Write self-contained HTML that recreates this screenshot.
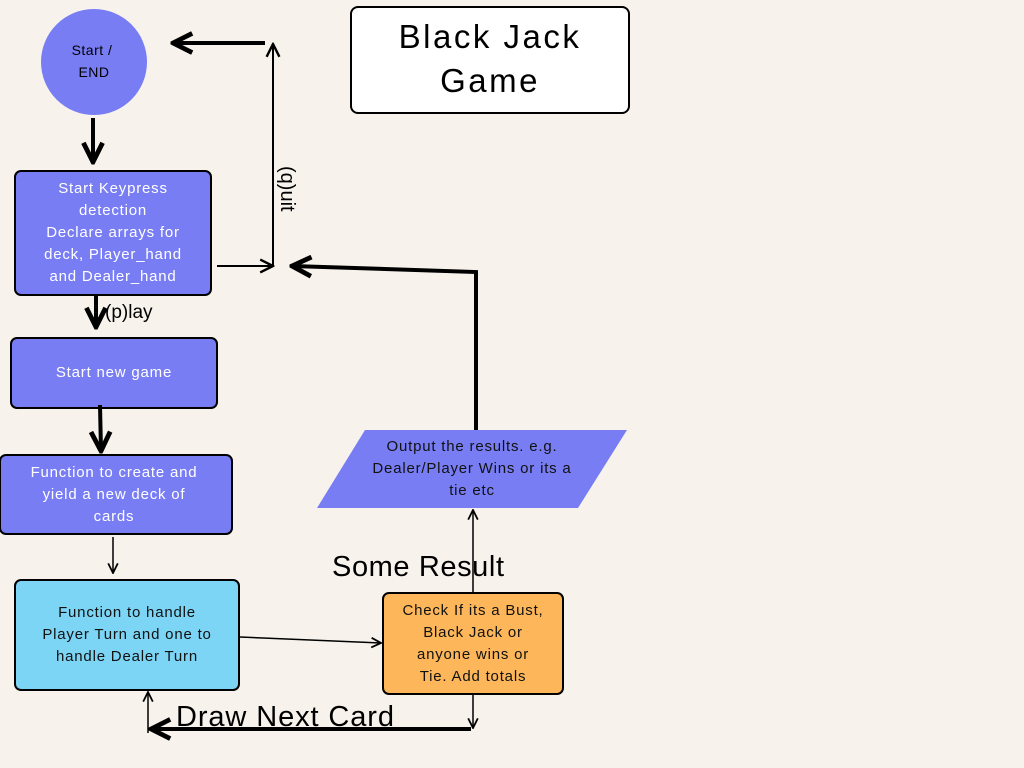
<!DOCTYPE html>
<html><head><style>body{margin:0;background:#f7f3ec}svg{display:block}</style></head><body>
<svg width="1024" height="768" viewBox="0 0 1024 768" xmlns="http://www.w3.org/2000/svg" font-family="Liberation Sans, sans-serif">
<rect width="1024" height="768" fill="#f7f3ec"/>
<defs>
<marker id="a" viewBox="0 0 10 10" refX="9" refY="5" markerWidth="6" markerHeight="6" orient="auto-start-reverse"><path d="M1,1 L9,5 L1,9" fill="none" stroke="#000" stroke-width="2"/></marker>
<marker id="t" viewBox="0 0 10 10" refX="9" refY="5" markerWidth="8" markerHeight="8" orient="auto-start-reverse"><path d="M1,1 L9,5 L1,9" fill="none" stroke="#000" stroke-width="1.5"/></marker>
</defs>
<circle cx="94" cy="62" r="53" fill="#787df4"/>
<text x="92" y="55" fill="#000" font-size="14" text-anchor="middle" letter-spacing="0.5">Start /</text>
<text x="94" y="77" fill="#000" font-size="14" text-anchor="middle" letter-spacing="0.5">END</text>
<rect x="351" y="7" width="278" height="106" rx="7" fill="#fff" stroke="#000" stroke-width="2"/>
<text x="490" y="48" font-size="33" text-anchor="middle" letter-spacing="2.5">Black Jack</text>
<text x="490" y="92" font-size="33" text-anchor="middle" letter-spacing="2.5">Game</text>
<g fill="#787df4" stroke="#000" stroke-width="2">
<rect x="15" y="171" width="196" height="124" rx="6"/>
<rect x="11" y="338" width="206" height="70" rx="6"/>
<rect x="0" y="455" width="232" height="79" rx="6"/>
<rect x="15" y="580" width="224" height="110" rx="6" fill="#7dd5f5"/>
<rect x="383" y="593" width="180" height="101" rx="6" fill="#fdb75a"/>
</g>
<polygon points="365,430 627,430 578,508 317,508" fill="#787df4"/>
<g fill="#fff" font-size="15" text-anchor="middle" letter-spacing="0.8">
<text x="113" y="193">Start Keypress</text>
<text x="113" y="215">detection</text>
<text x="113" y="237">Declare arrays for</text>
<text x="113" y="259">deck, Player_hand</text>
<text x="113" y="281">and Dealer_hand</text>
<text x="114" y="377">Start new game</text>
<text x="114" y="477">Function to create and</text>
<text x="114" y="499">yield a new deck of</text>
<text x="114" y="521">cards</text>
</g>
<g fill="#111" font-size="15" text-anchor="middle" letter-spacing="0.8">
<text x="127" y="617">Function to handle</text>
<text x="127" y="639">Player Turn and one to</text>
<text x="127" y="661">handle Dealer Turn</text>
<text x="473" y="615">Check If its a Bust,</text>
<text x="473" y="637">Black Jack or</text>
<text x="473" y="659">anyone wins or</text>
<text x="473" y="681">Tie. Add totals</text>
<text x="472" y="451">Output the results. e.g.</text>
<text x="472" y="473">Dealer/Player Wins or its a</text>
<text x="472" y="495">tie etc</text>
</g>
<g stroke="#000" fill="none">
<line x1="93" y1="118" x2="93" y2="162" stroke-width="4" marker-end="url(#a)"/>
<line x1="96" y1="296" x2="96" y2="327" stroke-width="4" marker-end="url(#a)"/>
<line x1="100" y1="405" x2="101" y2="451" stroke-width="4" marker-end="url(#a)"/>
<line x1="113" y1="537" x2="113" y2="573" stroke-width="1.5" marker-end="url(#t)"/>
<line x1="240" y1="637" x2="381" y2="643" stroke-width="1.5" marker-end="url(#t)"/>
<line x1="473" y1="592" x2="473" y2="510" stroke-width="1.5" marker-end="url(#t)"/>
<polyline points="476,430 476,272 292,266" stroke-width="4" marker-end="url(#a)"/>
<line x1="217" y1="266" x2="273" y2="266" stroke-width="2" marker-end="url(#t)"/>
<line x1="273" y1="266" x2="273" y2="44" stroke-width="2" marker-end="url(#t)"/>
<line x1="265" y1="43" x2="173" y2="43" stroke-width="4" marker-end="url(#a)"/>
<line x1="473" y1="694" x2="473" y2="728" stroke-width="1.5" marker-end="url(#t)"/>
<line x1="471" y1="729" x2="151" y2="729" stroke-width="4" marker-end="url(#a)"/>
<line x1="148" y1="733" x2="148" y2="692" stroke-width="1.5" marker-end="url(#t)"/>
</g>
<text x="105" y="318" font-size="19">(p)lay</text>
<text transform="translate(281,166) rotate(90)" font-size="20">(q)uit</text>
<text x="332" y="576" font-size="29" letter-spacing="0.6">Some Result</text>
<text x="176" y="726" font-size="29" letter-spacing="0.9">Draw Next Card</text>
</svg>
</body></html>
